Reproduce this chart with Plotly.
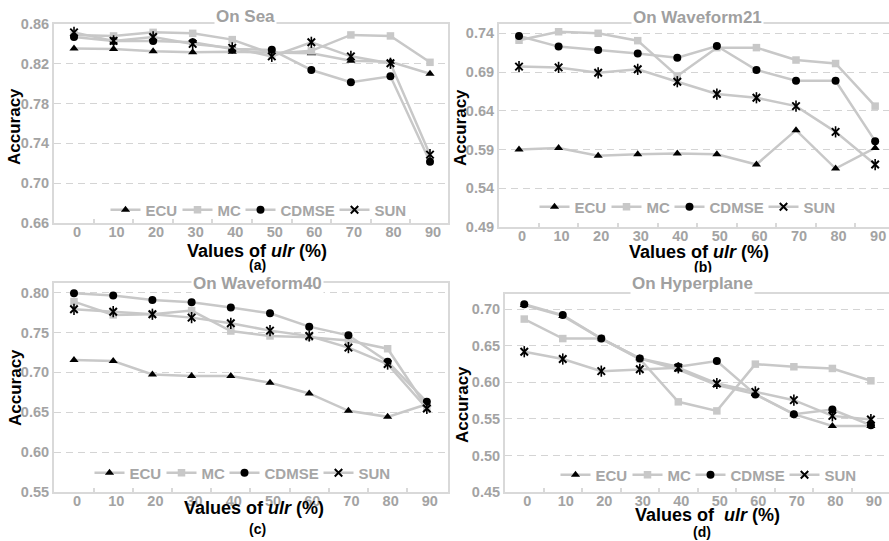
import plotly.graph_objects as go

ulr = [0, 10, 20, 30, 40, 50, 60, 70, 80, 90]
tick_labels = ["0", "10", "20", "30", "40", "50", "60", "70", "80", "90"]
series_names = ["ECU", "MC", "CDMSE", "SUN"]

# Panel (a) On Sea
sea_ecu = [0.8355, 0.835, 0.8325, 0.8315, 0.832, 0.831, 0.8305, 0.823, 0.822, 0.810]
sea_mc = [0.849, 0.848, 0.8516, 0.8506, 0.8443, 0.830, 0.833, 0.849, 0.848, 0.8215]
sea_cdmse = [0.847, 0.843, 0.843, 0.8416, 0.835, 0.834, 0.8138, 0.8014, 0.8074, 0.7216]
sea_sun = [0.8516, 0.843, 0.847, 0.840, 0.836, 0.8275, 0.8416, 0.8275, 0.8205, 0.7287]

# Panel (b) On Waveform21
w21_ecu = [0.590, 0.592, 0.582, 0.584, 0.585, 0.584, 0.5706, 0.615, 0.5654, 0.592]
w21_mc = [0.731, 0.742, 0.740, 0.7305, 0.685, 0.7215, 0.7215, 0.7055, 0.701, 0.646]
w21_cdmse = [0.7366, 0.7228, 0.7185, 0.714, 0.7085, 0.7236, 0.6926, 0.6788, 0.6788, 0.6008]
w21_sun = [0.697, 0.696, 0.689, 0.6935, 0.6775, 0.6616, 0.6568, 0.646, 0.6128, 0.5706]

# Panel (c) On Waveform40
w40_ecu = [0.7154, 0.7142, 0.6974, 0.6953, 0.6953, 0.687, 0.6735, 0.6518, 0.6442, 0.660]
w40_mc = [0.7887, 0.772, 0.7728, 0.7774, 0.7518, 0.7456, 0.7439, 0.740, 0.7296, 0.656]
w40_cdmse = [0.7992, 0.7962, 0.7908, 0.7879, 0.7812, 0.774, 0.7573, 0.7464, 0.7133, 0.663]
w40_sun = [0.779, 0.776, 0.7728, 0.7686, 0.7615, 0.7523, 0.7456, 0.731, 0.7104, 0.6547]

# Panel (d) On Hyperplane
hyp_ecu = [0.706, 0.691, 0.660, 0.633, 0.6177, 0.5963, 0.584, 0.5565, 0.5405, 0.5405]
hyp_mc = [0.6867, 0.660, 0.660, 0.632, 0.5734, 0.561, 0.625, 0.6214, 0.6191, 0.6022]
hyp_cdmse = [0.7069, 0.6922, 0.660, 0.6328, 0.6214, 0.6292, 0.5834, 0.5565, 0.5629, 0.5414]
hyp_sun = [0.642, 0.632, 0.6154, 0.618, 0.620, 0.5985, 0.587, 0.5757, 0.5542, 0.5492]

panels = [
    dict(title="On Sea", sub="(a)", xt="Values of <i>ulr</i> (%)",
         data=[sea_ecu, sea_mc, sea_cdmse, sea_sun],
         yticks=[0.66, 0.70, 0.74, 0.78, 0.82, 0.86], yrange=[0.66, 0.86],
         xrange=[-5.06, 94.55], xdom=[54/889, 448/889], ydom=[1-223/541, 1-24/541],
         leg=(256/889, 1-210/541),
         tpos=(246, 17), apos=(15, 127), xpos=(257, 251), spos=(257, 265)),
    dict(title="On Waveform21", sub="(b)", xt="Values of <i>ulr</i> (%)",
         data=[w21_ecu, w21_mc, w21_cdmse, w21_sun],
         yticks=[0.49, 0.54, 0.59, 0.64, 0.69, 0.74], yrange=[0.49, 0.752],
         xrange=[-5.06, 93.5], xdom=[499/889, 1.0], ydom=[1-227/541, 1-24/541],
         leg=(685/889, 1-207/541),
         tpos=(697, 18), apos=(460, 128), xpos=(699, 252), spos=(703, 267)),
    dict(title="On Waveform40", sub="(c)", xt="Values of <i>ulr</i> (%)",
         data=[w40_ecu, w40_mc, w40_cdmse, w40_sun],
         yticks=[0.55, 0.60, 0.65, 0.70, 0.75, 0.80], yrange=[0.55, 0.812],
         xrange=[-5.1, 95.4], xdom=[54/889, 448/889], ydom=[1-492/541, 1-283/541],
         leg=(240/889, 1-473/541),
         tpos=(257, 283), apos=(15, 388), xpos=(254, 508), spos=(257, 529)),
    dict(title="On Hyperplane", sub="(d)", xt="Values of  <i>ulr</i> (%)",
         data=[hyp_ecu, hyp_mc, hyp_cdmse, hyp_sun],
         yticks=[0.45, 0.50, 0.55, 0.60, 0.65, 0.70], yrange=[0.45, 0.721],
         xrange=[-5.0, 94.7], xdom=[505/889, 1.0], ydom=[1-492/541, 1-294/541],
         leg=(706/889, 1-475/541),
         tpos=(692, 283), apos=(462, 404), xpos=(707, 515), spos=(702, 532)),
]

LINE = "#c8c8c8"
TICKC = "#a3a3a3"
FONT = "Liberation Sans, Arial, sans-serif"
styles = [
    dict(symbol="triangle-up", color="black", size=8, lw=0, lc="black"),
    dict(symbol="square", color=LINE, size=7.5, lw=0, lc=LINE),
    dict(symbol="circle", color="black", size=8, lw=0, lc="black"),
    dict(symbol="x-thin-open", color="black", size=7.5, lw=2, lc="black"),
]
legwidth = [27, 18, 49, 27]

fig = go.Figure()
annotations = []
for i, p in enumerate(panels):
    k = "" if i == 0 else str(i + 1)
    xa, ya = "x" + k, "y" + k
    legname = "legend" if i == 0 else "legend" + str(i + 1)
    for j, (name, vals) in enumerate(zip(series_names, p["data"])):
        st = styles[j]
        fig.add_trace(go.Scatter(
            x=ulr, y=vals, name=name, mode="lines+markers",
            xaxis=xa, yaxis=ya, legend=legname, legendwidth=legwidth[j],
            line=dict(color=LINE, width=2.5),
            marker=dict(symbol=st["symbol"], color=st["color"], size=st["size"],
                        line=dict(width=st["lw"], color=st["lc"])),
        ))
        if name == "SUN":
            fig.add_trace(go.Scatter(
                x=ulr, y=vals, mode="markers", showlegend=False,
                xaxis=xa, yaxis=ya, legend=legname,
                marker=dict(symbol="line-ns-open", color="black", size=8,
                            line=dict(width=1.6, color="black")),
            ))
    axis_x = dict(domain=p["xdom"], range=p["xrange"], anchor=ya, automargin=False,
                  tickvals=ulr, ticktext=tick_labels, ticks="",
                  ticklabelstandoff=-5, ticklabelshift=3,
                  showgrid=False, zeroline=False, showline=True, mirror=True,
                  linecolor="#d9d9d9", linewidth=2,
                  tickfont=dict(family=FONT, size=14.5, color=TICKC, weight="bold"),
                  minor=dict(tickvals=[5, 15, 25, 35, 45, 55, 65, 75, 85],
                             ticks="inside", ticklen=4, tickwidth=1.5,
                             tickcolor="#d9d9d9", showgrid=False))
    axis_y = dict(domain=p["ydom"], range=p["yrange"], anchor=xa, automargin=False,
                  tickvals=p["yticks"], ticktext=["%.2f" % v for v in p["yticks"]],
                  ticks="", showgrid=True, gridcolor="#d4d4d4", gridwidth=1,
                  griddash="7px,5px", zeroline=False, showline=True, mirror=True,
                  linecolor="#d9d9d9", linewidth=2,
                  tickfont=dict(family=FONT, size=14.5, color=TICKC, weight="bold"))
    fig.update_layout(**{"xaxis" + k: axis_x, "yaxis" + k: axis_y})
    fig.update_layout(**{legname: dict(
        orientation="h", x=p["leg"][0], y=p["leg"][1], xanchor="center", yanchor="middle",
        xref="paper", yref="paper", bgcolor="rgba(0,0,0,0)", itemwidth=30,
        font=dict(family=FONT, size=15, color="#a6a6a6", weight="bold"))})
    annotations.append(dict(text="<b>%s</b>" % p["title"], x=p["tpos"][0]/889, y=1-p["tpos"][1]/541,
                            xref="paper", yref="paper", showarrow=False, bgcolor="white",
                            xanchor="center", yanchor="middle",
                            font=dict(family=FONT, size=17, color="#a0a0a0")))
    annotations.append(dict(text="<b>Accuracy</b>", x=p["apos"][0]/889, y=1-p["apos"][1]/541,
                            xref="paper", yref="paper", showarrow=False, textangle=-90,
                            xanchor="center", yanchor="middle",
                            font=dict(family=FONT, size=17, color="black")))
    annotations.append(dict(text="<b>%s</b>" % p["xt"], x=p["xpos"][0]/889, y=1-p["xpos"][1]/541,
                            xref="paper", yref="paper", showarrow=False,
                            xanchor="center", yanchor="middle",
                            font=dict(family=FONT, size=18, color="black")))
    annotations.append(dict(text="<b>%s</b>" % p["sub"], x=p["spos"][0]/889, y=1-p["spos"][1]/541,
                            xref="paper", yref="paper", showarrow=False,
                            xanchor="center", yanchor="middle",
                            font=dict(family=FONT, size=14, color="black")))

fig.update_layout(width=889, height=541,
                  margin=dict(l=0, r=0, t=0, b=0, pad=0, autoexpand=False),
                  paper_bgcolor="white", plot_bgcolor="white",
                  annotations=annotations, font=dict(family=FONT))
fig.write_html("out.html")
